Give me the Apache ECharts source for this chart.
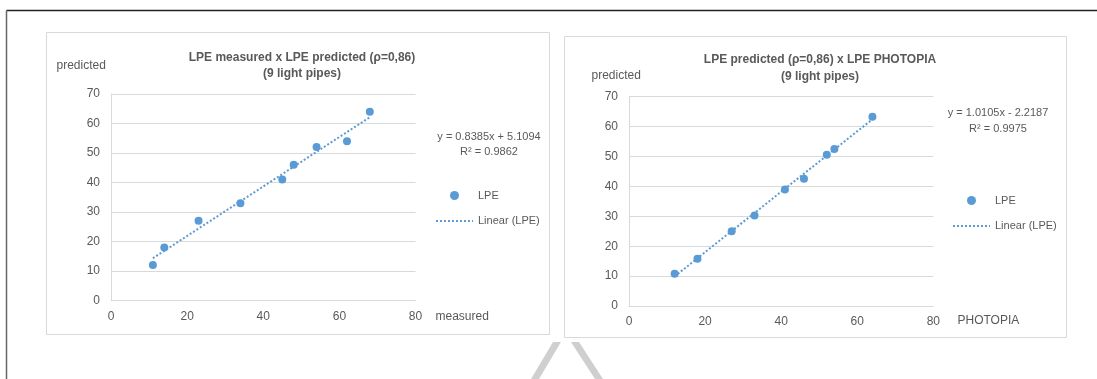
<!DOCTYPE html>
<html>
<head>
<meta charset="utf-8">
<script src="https://cdn.jsdelivr.net/npm/echarts@6/dist/echarts.min.js"></script>
<style>
html,body{margin:0;padding:0;background:#fff;}
#c{width:1097px;height:379px;}
</style>
</head>
<body>
<div id="c"></div>
<script>
// ---- data ----
const leftMeasured  = [11, 14, 23, 34, 45, 48, 54, 62, 68];
const leftPredicted = [12, 18, 27, 33, 41, 46, 52, 54, 64];
const rightX = [12, 18, 27, 33, 41, 46, 52, 54, 64];
const rightY = [10.8, 15.8, 25, 30.3, 39, 42.6, 50.6, 52.5, 63.3];
const leftFit  = {slope: 0.8385, intercept: 5.1094};
const rightFit = {slope: 1.0105, intercept: -2.2187};
const leftEquation  = ['y = 0.8385x + 5.1094', 'R² = 0.9862'];
const rightEquation = ['y = 1.0105x - 2.2187', 'R² = 0.9975'];
const titles = ['LPE measured x LPE predicted (ρ=0,86)\n(9 light pipes)', 'LPE predicted (ρ=0,86) x LPE PHOTOPIA\n(9 light pipes)'];
const yNames = ['predicted', 'predicted'];
const xNames = ['measured', 'PHOTOPIA'];
const xTicks = {min: 0, max: 80, interval: 20};
const yTicks = {min: 0, max: 70, interval: 10};
const seriesNames = ['LPE', 'Linear (LPE)'];

const FONT = "'Liberation Sans', Arial, sans-serif";
const TXT = '#595959';
const BLUE = '#5B9BD5';
const GRID = '#D9D9D9';

function pairs(xs, ys){ return xs.map((x,i)=>[x, ys[i]]); }
function trend(xs, fit){
  const a = Math.min(...xs), b = Math.max(...xs);
  return [[a, fit.slope*a + fit.intercept], [b, fit.slope*b + fit.intercept]];
}
function xAxis(i){
  return {gridIndex:i, type:'value', min:xTicks.min, max:xTicks.max, interval:xTicks.interval,
    axisLine:{show:true, lineStyle:{color:GRID, width:1}}, axisTick:{show:false}, splitLine:{show:false},
    axisLabel:{color:TXT, fontSize:12, fontFamily:FONT, margin:10}};
}
function yAxis(i){
  return {gridIndex:i, type:'value', min:yTicks.min, max:yTicks.max, interval:yTicks.interval,
    axisLine:{show:true, lineStyle:{color:GRID, width:1}}, axisTick:{show:false},
    splitLine:{show:true, lineStyle:{color:GRID, width:1}},
    axisLabel:{color:TXT, fontSize:12, fontFamily:FONT, margin:11}};
}
function txt(x, y, s, size, align){
  return {type:'text', x:x, y:y, silent:true, z:10,
    style:{text:s, fill:TXT, font: size+'px '+FONT, textAlign:align||'left', textVerticalAlign:'middle'}};
}
function legendData(){
  return [{name:seriesNames[0], icon:'circle', itemStyle:{opacity:1}},
          {name:seriesNames[1], itemStyle:{opacity:0}}];
}

const chart = echarts.init(document.getElementById('c'), null, {renderer:'canvas'});
chart.setOption({
  animation:false,
  backgroundColor:'#fff',
  title:[
    {text:titles[0], left:297, top:44, textAlign:'center',
     textStyle:{color:TXT, fontSize:12, fontWeight:'bold', fontFamily:FONT, lineHeight:16.6}},
    {text:titles[1], left:815, top:46.5, textAlign:'center',
     textStyle:{color:TXT, fontSize:12, fontWeight:'bold', fontFamily:FONT, lineHeight:16.6}}
  ],
  legend:[
    {orient:'vertical', left:430, top:185, itemWidth:37, itemHeight:9, itemGap:14.6,
     data:legendData(), textStyle:{color:TXT, fontSize:11, fontFamily:FONT}, selectedMode:false},
    {orient:'vertical', left:947, top:190, itemWidth:37, itemHeight:9, itemGap:14.6,
     data:legendData(), textStyle:{color:TXT, fontSize:11, fontFamily:FONT}, selectedMode:false}
  ],
  grid:[
    {left:111, top:94, width:304.5, height:206.5},
    {left:629, top:96.7, width:304.3, height:209.3}
  ],
  xAxis:[xAxis(0), xAxis(1)],
  yAxis:[yAxis(0), yAxis(1)],
  series:[
    {name:seriesNames[1], type:'line', xAxisIndex:0, yAxisIndex:0, data:trend(leftMeasured, leftFit),
     symbol:'none', z:2, lineStyle:{color:BLUE, width:2, type:'dotted'}, itemStyle:{color:BLUE}},
    {name:seriesNames[0], type:'scatter', xAxisIndex:0, yAxisIndex:0, data:pairs(leftMeasured, leftPredicted),
     symbol:'circle', symbolSize:8, z:3, itemStyle:{color:BLUE, opacity:1}},
    {name:seriesNames[1], type:'line', xAxisIndex:1, yAxisIndex:1, data:trend(rightX, rightFit),
     symbol:'none', z:2, lineStyle:{color:BLUE, width:2, type:'dotted'}, itemStyle:{color:BLUE}},
    {name:seriesNames[0], type:'scatter', xAxisIndex:1, yAxisIndex:1, data:pairs(rightX, rightY),
     symbol:'circle', symbolSize:8, z:3, itemStyle:{color:BLUE, opacity:1}}
  ],
  graphic:[
    // outer frame
    {type:'line', shape:{x1:6.5, y1:10.5, x2:1097, y2:10.5}, style:{stroke:'#222', lineWidth:1.5}, silent:true},
    {type:'line', shape:{x1:6.5, y1:10.5, x2:6.5, y2:379}, style:{stroke:'#666', lineWidth:1.5}, silent:true},
    // chart boxes
    {type:'rect', shape:{x:46.5, y:32.5, width:503, height:302}, style:{fill:'none', stroke:GRID, lineWidth:1}, silent:true, z:-1},
    {type:'rect', shape:{x:564.5, y:36.5, width:502, height:301}, style:{fill:'none', stroke:GRID, lineWidth:1}, silent:true, z:-1},
    // watermark strokes
    {type:'polygon', shape:{points:[[553,342],[561,342],[539,379],[531,379]]}, style:{fill:'#cfcfcf'}, silent:true},
    {type:'polygon', shape:{points:[[571,342],[579,342],[603,379],[595,379]]}, style:{fill:'#cfcfcf'}, silent:true},
    // axis names
    txt(56.5, 66, yNames[0], 12),
    txt(435.5, 316.5, xNames[0], 12),
    txt(591.5, 75.5, yNames[1], 12),
    txt(957.5, 321, xNames[1], 12),
    // equations
    txt(489, 136.5, leftEquation[0], 11, 'center'),
    txt(489, 152, leftEquation[1], 11, 'center'),
    txt(998, 112.5, rightEquation[0], 11, 'center'),
    txt(998, 129, rightEquation[1], 11, 'center')
  ]
});
</script>
</body>
</html>
